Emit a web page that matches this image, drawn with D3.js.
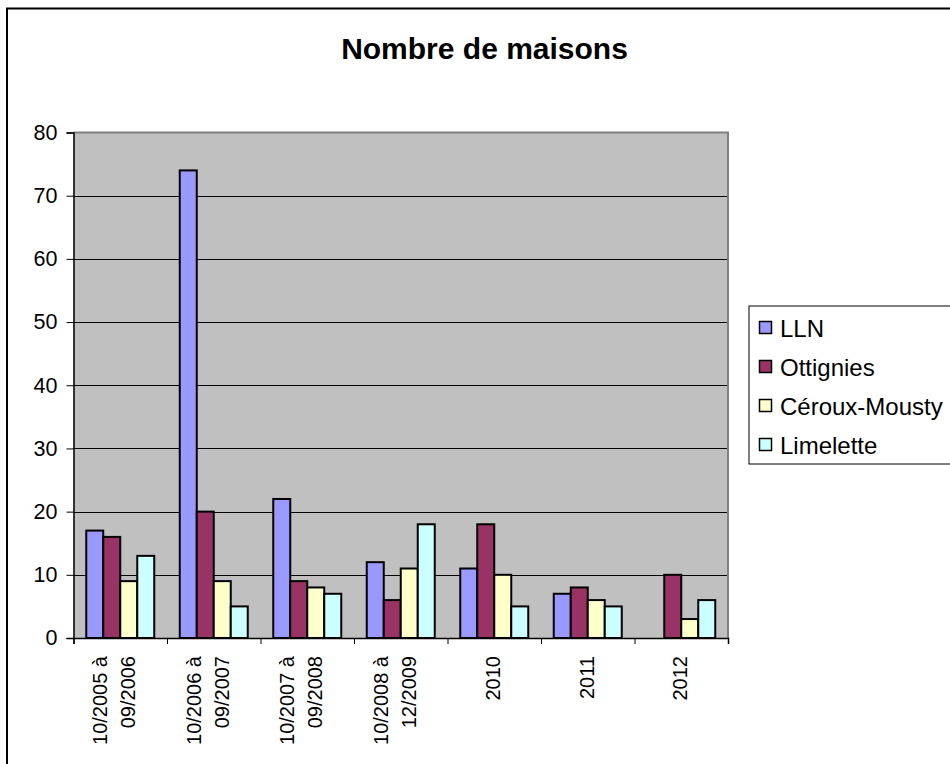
<!DOCTYPE html>
<html><head><meta charset="utf-8">
<script src="https://cdn.jsdelivr.net/npm/d3@7"></script>
<style>
body{margin:0;background:#fff;}
text{font-family:"Liberation Sans",Arial,sans-serif;}
</style></head>
<body>
<svg id="chart" width="950" height="764"></svg>
<script>
const categories = [["10/2005 à","09/2006"],["10/2006 à","09/2007"],["10/2007 à","09/2008"],["10/2008 à","12/2009"],["2010"],["2011"],["2012"]];
const seriesNames = ["LLN","Ottignies","Céroux-Mousty","Limelette"];
const LLN = [17,74,22,12,11,7,null];
const Ottignies = [16,20,9,6,18,8,10];
const CerouxMousty = [9,9,8,11,10,6,3];
const Limelette = [13,5,7,18,5,5,6];
const yTicks = [0,10,20,30,40,50,60,70,80];
const colors = ["#9999FF","#993366","#FFFFCC","#CCFFFF"];
const series = [LLN,Ottignies,CerouxMousty,Limelette];

const svg = d3.select("#chart");
// outer frame
svg.append("rect").attr("x",7).attr("y",8.5).attr("width",1000).attr("height",800)
  .attr("fill","#fff").attr("stroke","#000").attr("stroke-width",2);

const pL=73.5, pR=728, pT=132.5, pB=638;
const x0 = d3.scaleBand().domain(d3.range(categories.length)).range([pL,pR]).paddingInner(0).paddingOuter(0);
const bw = x0.bandwidth()/5.5;
const y = d3.scaleLinear().domain([0,80]).range([pB,pT]);

// plot area
svg.append("rect").attr("x",pL).attr("y",pT).attr("width",pR-pL).attr("height",pB-pT)
  .attr("fill","#C0C0C0");
// gridlines
svg.append("g").selectAll("line").data(yTicks.filter(d=>d>0&&d<80)).join("line")
  .attr("x1",pL).attr("x2",pR).attr("y1",d=>Math.round(y(d))+0.5).attr("y2",d=>Math.round(y(d))+0.5)
  .attr("stroke","#000").attr("stroke-width",1);
// plot border top/right
svg.append("path").attr("d",`M${pL},${pT}H${pR}V${pB}`).attr("fill","none").attr("stroke","#808080").attr("stroke-width",2);

// bars
series.forEach((s,si)=>{
  svg.append("g").selectAll("rect").data(s.map((v,i)=>({v,i})).filter(d=>d.v!==null)).join("rect")
    .attr("x",d=>x0(d.i)+0.75*bw+si*bw)
    .attr("y",d=>y(d.v))
    .attr("width",bw)
    .attr("height",d=>pB-y(d.v))
    .attr("fill",colors[si]).attr("stroke","#000").attr("stroke-width",2);
});

// y axis
const yAxis = d3.axisLeft(y).tickValues(yTicks).tickSize(7).tickPadding(9).tickFormat(d3.format("d"));
const gy = svg.append("g").attr("transform",`translate(${pL},0)`).call(yAxis);
gy.select(".domain").attr("stroke","#000").attr("stroke-width",1.5);
gy.selectAll(".tick line").attr("stroke","#000");
gy.selectAll(".tick text").attr("font-size",21.5).attr("fill","#000").attr("font-family","Liberation Sans, Arial, sans-serif");

// x axis
const xTickScale = d3.scaleLinear().domain([0,categories.length]).range([pL,pR]);
const gx = svg.append("g").attr("transform",`translate(0,${pB})`)
  .call(d3.axisBottom(xTickScale).tickValues(d3.range(categories.length+1)).tickSize(6).tickFormat(""));
gx.select(".domain").attr("stroke","#000").attr("stroke-width",1.5);
gx.selectAll(".tick line").attr("stroke","#000");

// x labels
categories.forEach((c,i)=>{
  const cx = x0(i)+x0.bandwidth()/2;
  const t = svg.append("text").attr("transform",`translate(${cx},656) rotate(-90)`)
    .attr("text-anchor","end").attr("font-size",20).attr("fill","#000");
  c.forEach((line,li)=>{
    const off = c.length===1 ? 6 : -13 + li*28;
    t.append("tspan").attr("x",0).attr("y",off).text(line);
  });
});

// title
svg.append("text").attr("x",484.5).attr("y",59).attr("text-anchor","middle")
  .attr("font-size",30).attr("font-weight","bold").attr("fill","#000").text("Nombre de maisons");

// legend
svg.append("rect").attr("x",749).attr("y",306).attr("width",300).attr("height",158)
  .attr("fill","#fff").attr("stroke","#000").attr("stroke-width",1);
const lg = svg.append("g").selectAll("g").data(seriesNames).join("g")
  .attr("transform",(d,i)=>`translate(759,${328+i*39})`);
lg.append("rect").attr("x",0.5).attr("y",-6.5).attr("width",12).attr("height",12)
  .attr("fill",(d,i)=>colors[i]).attr("stroke","#000").attr("stroke-width",1.5);
lg.append("text").attr("x",21).attr("y",8.5).attr("font-size",24).attr("fill","#000").text(d=>d);
</script>
</body></html>
